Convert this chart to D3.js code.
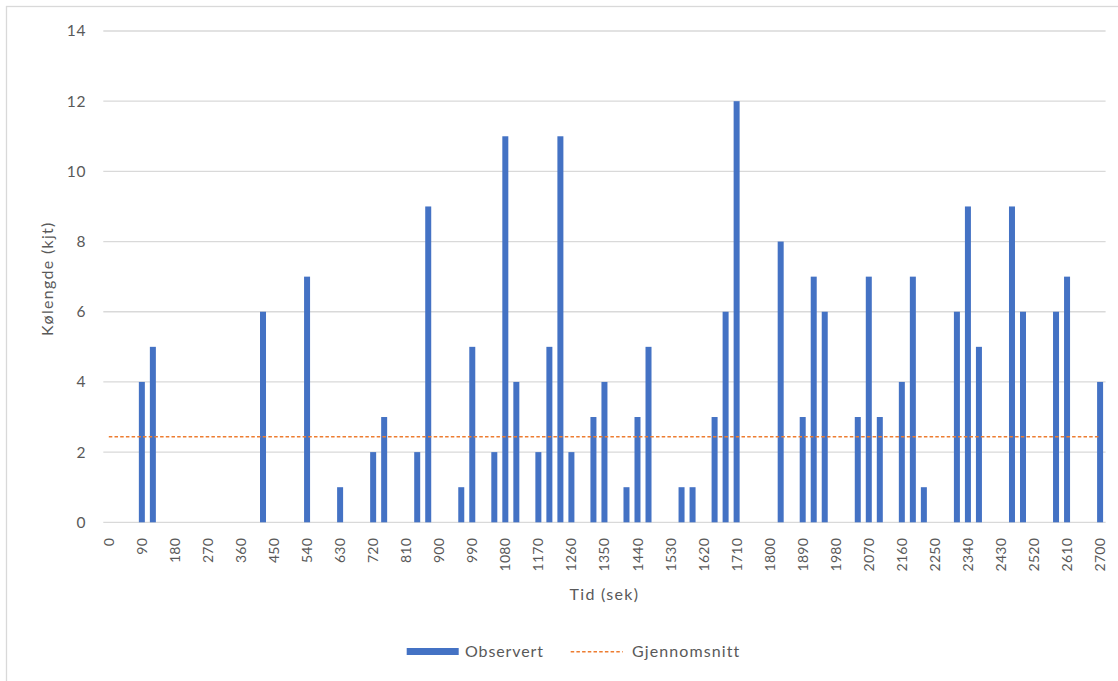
<!DOCTYPE html>
<html>
<head>
<meta charset="utf-8">
<script src="https://cdn.jsdelivr.net/npm/d3@7"></script>
<style>
  html, body { margin: 0; padding: 0; background: #fff; }
  svg { display: block; font-family: Lato, "Open Sans", sans-serif; }
</style>
</head>
<body>
<svg id="chart" width="1118" height="681"></svg>
<script>
// Observation times (seconds), one category every 30 s
const times = d3.range(0, 2701, 30);

// Queue length observed at each time (vehicles); blank intervals are 0
const observed = [
  0, 0, 0, 4, 5, 0, 0, 0, 0, 0,
  0, 0, 0, 0, 6, 0, 0, 0, 7, 0,
  0, 1, 0, 0, 2, 3, 0, 0, 2, 9,
  0, 0, 1, 5, 0, 2, 11, 4, 0, 2,
  5, 11, 2, 0, 3, 4, 0, 1, 3, 5,
  0, 0, 1, 1, 0, 3, 6, 12, 0, 0,
  0, 8, 0, 3, 7, 6, 0, 0, 3, 7,
  3, 0, 4, 7, 1, 0, 0, 6, 9, 5,
  0, 0, 9, 6, 0, 0, 6, 7, 0, 0,
  4
];

const yTicks = [0, 2, 4, 6, 8, 10, 12, 14];
const xTickLabels = times.filter((t, i) => i % 3 === 0);

const seriesNames = ["Observert", "Gjennomsnitt"];
const axisTitles = { x: "Tid (sek)", y: "Kølengde (kjt)" };

const average = d3.mean(observed);

const W = 1118, H = 681;
const plot = { left: 103.3, right: 1105.6, top: 31, bottom: 522.3 };
const textColor = "#595959";
const gridColor = "#d9d9d9";
const barColor = "#4472c4";
const avgColor = "#ed7d31";

const svg = d3.select("#chart");

// chart area frame
svg.append("rect")
  .attr("x", 6.5).attr("y", 6.5)
  .attr("width", W).attr("height", H)
  .attr("fill", "#fff")
  .attr("stroke", gridColor)
  .attr("stroke-width", 1.3);

const x = d3.scaleBand()
  .domain(times)
  .range([plot.left, plot.right])
  .padding(0);

const y = d3.scaleLinear()
  .domain([0, 14])
  .range([plot.bottom, plot.top]);

// horizontal gridlines
svg.append("g")
  .selectAll("line")
  .data(yTicks)
  .join("line")
  .attr("x1", plot.left).attr("x2", plot.right)
  .attr("y1", d => y(d)).attr("y2", d => y(d))
  .attr("stroke", gridColor)
  .attr("stroke-width", 1.3);

// y axis labels
const yAxis = d3.axisLeft(y).tickValues(yTicks).tickSize(0).tickPadding(0);
svg.append("g")
  .attr("transform", `translate(86,0)`)
  .call(yAxis)
  .call(g => g.select(".domain").remove())
  .call(g => g.selectAll("text")
    .attr("fill", textColor)
    .style("font-family", "Lato, sans-serif")
    .style("font-size", "15.5px")
    .style("letter-spacing", "0.6px"));

// x axis labels, rotated
const xAxis = d3.axisBottom(x).tickValues(xTickLabels).tickSize(0).tickPadding(0);
svg.append("g")
  .attr("transform", `translate(0,${plot.bottom})`)
  .call(xAxis)
  .call(g => g.select(".domain").remove())
  .call(g => g.selectAll("text")
    .attr("fill", textColor)
    .style("font-family", "Lato, sans-serif")
    .style("font-size", "14px")
    .style("letter-spacing", "0.3px")
    .attr("text-anchor", "end")
    .attr("transform", "translate(0,15.5) rotate(-90)")
    .attr("x", 0).attr("y", 0)
    .attr("dy", "0.36em"));

// bars
const barW = 6;
svg.append("g")
  .selectAll("rect")
  .data(times.map((t, i) => ({ t, v: observed[i] })).filter(d => d.v > 0))
  .join("rect")
  .attr("x", d => x(d.t) + x.bandwidth() / 2 - barW / 2)
  .attr("y", d => y(d.v))
  .attr("width", barW)
  .attr("height", d => y(0) - y(d.v))
  .attr("fill", barColor);

// average line across category centres
const line = d3.line()
  .x(d => x(d) + x.bandwidth() / 2)
  .y(() => y(average));
svg.append("path")
  .datum(times)
  .attr("d", line)
  .attr("fill", "none")
  .attr("stroke", avgColor)
  .attr("stroke-width", 1.4)
  .attr("stroke-dasharray", "3.5,2.2");

// axis titles
svg.append("text")
  .attr("x", (plot.left + plot.right) / 2)
  .attr("y", 600)
  .attr("text-anchor", "middle")
  .attr("fill", textColor)
  .style("font-size", "16px")
  .style("letter-spacing", "1.3px")
  .text(axisTitles.x);

svg.append("text")
  .attr("transform", `translate(53,${(plot.top + plot.bottom) / 2 + 2}) rotate(-90)`)
  .attr("text-anchor", "middle")
  .attr("fill", textColor)
  .style("font-size", "16px")
  .style("letter-spacing", "1.3px")
  .text(axisTitles.y);

// legend
const legend = svg.append("g");
legend.append("rect")
  .attr("x", 406.7).attr("y", 648)
  .attr("width", 52).attr("height", 7)
  .attr("fill", barColor);
legend.append("text")
  .attr("x", 465).attr("y", 657)
  .attr("fill", textColor)
  .style("font-size", "16px")
  .style("letter-spacing", "0.9px")
  .text(seriesNames[0]);
legend.append("line")
  .attr("x1", 570.7).attr("x2", 622.7)
  .attr("y1", 651.7).attr("y2", 651.7)
  .attr("stroke", avgColor)
  .attr("stroke-width", 1.4)
  .attr("stroke-dasharray", "3.5,2.2");
legend.append("text")
  .attr("x", 632).attr("y", 657)
  .attr("fill", textColor)
  .style("font-size", "16px")
  .style("letter-spacing", "1.1px")
  .text(seriesNames[1]);
</script>
</body>
</html>
